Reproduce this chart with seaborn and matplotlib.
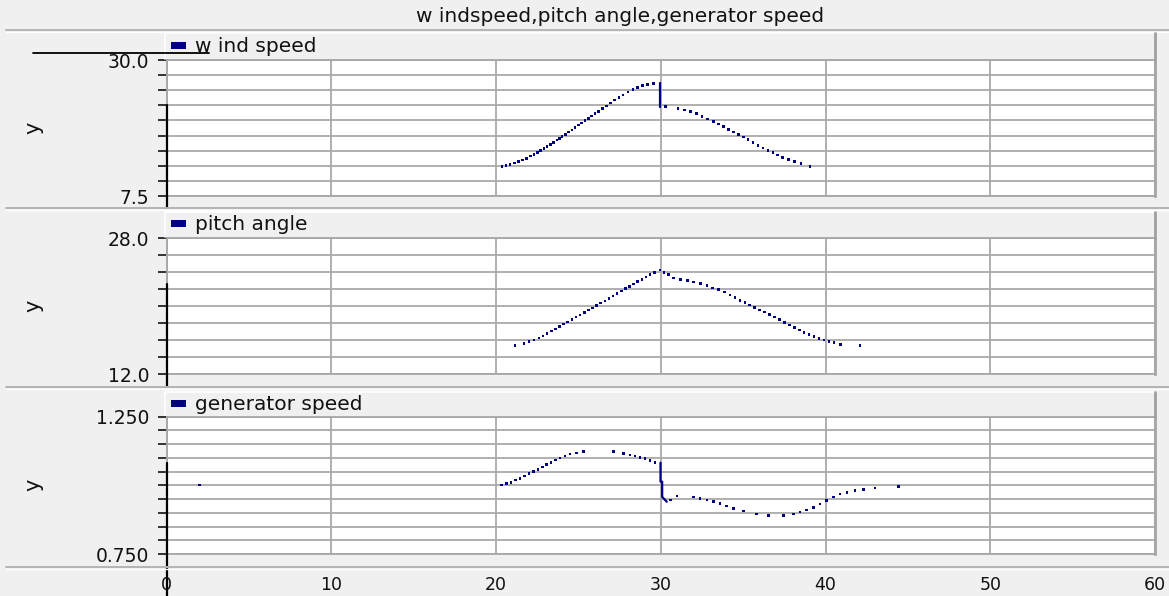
import matplotlib
matplotlib.use("Agg")
import matplotlib.pyplot as plt
import seaborn as sns
import pandas as pd
from matplotlib.patches import Rectangle
from matplotlib.lines import Line2D

# ---------------- data ----------------
title_text = "w indspeed,pitch angle,generator speed"
panel_names = ["w ind speed", "pitch angle", "generator speed"]
x_ticks = [0, 10, 20, 30, 40, 50, 60]

# wind speed
wind_rise_t = [20.35, 20.6, 20.85, 21.1, 21.35, 21.6, 21.85, 22.1, 22.3, 22.5, 22.7, 22.9,
               23.1, 23.3, 23.5, 23.7, 23.85, 24.0, 24.2, 24.4, 24.6, 24.8, 25.0, 25.2,
               25.4, 25.6, 25.8, 26.0, 26.2, 26.45, 26.7, 26.95, 27.2, 27.45, 27.7, 28.0,
               28.3, 28.6, 28.9, 29.2, 29.55]
wind_rise_v = [12.4, 12.55, 12.75, 12.95, 13.2, 13.45, 13.75, 14.1, 14.4, 14.7, 15.05, 15.35,
               15.7, 16.05, 16.4, 16.75, 17.0, 17.3, 17.7, 18.1, 18.45, 18.85, 19.25, 19.6,
               20.0, 20.35, 20.75, 21.1, 21.5, 21.95, 22.4, 22.9, 23.35, 23.8, 24.2, 24.7,
               25.1, 25.45, 25.75, 25.95, 26.15]
wind_step_t = [29.97, 29.97]
wind_step_v = [26.2, 22.3]
wind_fall_t = [30.3, 31.05, 31.45, 31.8, 32.15, 32.5, 32.85, 33.2, 33.5, 33.8, 34.1, 34.4,
               34.7, 35.0, 35.3, 35.6, 35.9, 36.2, 36.5, 36.8, 37.1, 37.4, 37.75, 38.1,
               38.5, 39.05]
wind_fall_v = [22.35, 22.0, 21.75, 21.45, 21.1, 20.7, 20.25, 19.8, 19.4, 18.95, 18.55, 18.1,
               17.7, 17.25, 16.8, 16.35, 15.9, 15.45, 15.05, 14.65, 14.25, 13.9, 13.55, 13.2,
               12.85, 12.4]
wind_t0_t = [0, 0]
wind_t0_v = [22.5, 5.5]

# pitch angle
pitch_rise_t = [21.15, 21.7, 22.0, 22.3, 22.6, 22.85, 23.1, 23.35, 23.6, 23.85, 24.1, 24.35,
                24.6, 24.85, 25.1, 25.35, 25.6, 25.85, 26.1, 26.35, 26.6, 26.85, 27.1, 27.35,
                27.6, 27.85, 28.1, 28.35, 28.6, 28.85, 29.1, 29.35, 29.6, 29.95]
pitch_rise_v = [15.34, 15.6, 15.8, 16.0, 16.25, 16.5, 16.78, 17.05, 17.32, 17.6, 17.88, 18.15,
                18.43, 18.7, 18.98, 19.25, 19.53, 19.8, 20.08, 20.36, 20.63, 20.91, 21.2, 21.48,
                21.77, 22.05, 22.33, 22.6, 22.88, 23.15, 23.42, 23.7, 23.95, 24.26]
pitch_fall_t = [30.2, 30.45, 30.75, 31.2, 31.6, 32.0, 32.4, 32.8, 33.15, 33.5, 33.85, 34.2,
                34.5, 34.8, 35.1, 35.4, 35.7, 36.0, 36.3, 36.6, 36.9, 37.2, 37.5, 37.8,
                38.1, 38.4, 38.7, 39.0, 39.3, 39.6, 39.9, 40.2, 40.5, 40.9, 42.1]
pitch_fall_v = [24.0, 23.7, 23.3, 23.15, 23.0, 22.85, 22.65, 22.4, 22.15, 21.95, 21.65, 21.3,
                21.0, 20.7, 20.45, 20.15, 19.85, 19.55, 19.3, 19.0, 18.7, 18.4, 18.1, 17.8,
                17.5, 17.2, 16.9, 16.65, 16.4, 16.2, 16.0, 15.85, 15.7, 15.5, 15.33]
pitch_t0_t = [0, 0]
pitch_t0_v = [22.6, 10.6]

# generator speed
gen_rise_t = [1.99, 20.34, 20.64, 20.9, 21.19, 21.45, 21.71, 22.0, 22.26, 22.53, 22.8, 23.07,
              23.33, 23.62, 23.88, 24.18, 24.49, 24.89, 25.29, 27.12, 27.72, 28.13, 28.43,
              28.74, 29.04, 29.34, 29.65]
gen_rise_v = [1.001, 1.001, 1.007, 1.011, 1.019, 1.025, 1.034, 1.043, 1.049, 1.058, 1.067, 1.076,
              1.083, 1.092, 1.099, 1.106, 1.114, 1.118, 1.122, 1.122, 1.116, 1.110, 1.106,
              1.101, 1.098, 1.089, 1.083]
gen_step_t = [29.98, 29.98, 30.08, 30.08, 30.2, 30.36]
gen_step_v = [1.082, 1.013, 1.013, 0.958, 0.950, 0.940]
gen_fall_t = [30.6, 30.97, 31.97, 32.38, 32.79, 33.19, 33.59, 34.0, 34.4, 35.01, 35.82, 36.53,
              37.44, 38.05, 38.45, 38.86, 39.26, 39.67, 40.07, 40.47, 40.88, 41.29, 41.79,
              42.3, 43.0, 44.42]
gen_fall_v = [0.946, 0.961, 0.958, 0.952, 0.946, 0.940, 0.934, 0.925, 0.916, 0.906, 0.895, 0.891,
              0.889, 0.895, 0.903, 0.910, 0.920, 0.932, 0.944, 0.958, 0.968, 0.973, 0.980,
              0.985, 0.990, 0.995]
gen_t0_t = [0, 0]
gen_t0_v = [1.081, 0.597]

y_ticks_wind = [7.5, 10.0, 12.5, 15.0, 17.5, 20.0, 22.5, 25.0, 27.5, 30.0]
y_ticks_pitch = [12.0, 14.0, 16.0, 18.0, 20.0, 22.0, 24.0, 26.0, 28.0]
y_ticks_gen = [0.75, 0.80, 0.85, 0.90, 0.95, 1.00, 1.05, 1.10, 1.15, 1.20, 1.25]
y_end_labels = [("7.5", "30.0"), ("12.0", "28.0"), ("0.750", "1.250")]

# ---------------- style ----------------
sns.set_style("white")
plt.rcParams["font.family"] = ["DejaVu Sans"]

BG = "#f0f0f0"
GRID = "#a9a9a9"
NAVY = "#000080"
TXT = "#111111"

W, H = 1169, 596
fig = plt.figure(figsize=(W / 100, H / 100), dpi=100, facecolor=BG)


def fx(px):
    return px / W


def fy(py):
    return 1 - py / H


def hline(y, x0, x1, color, lw):
    fig.add_artist(Line2D([fx(x0), fx(x1)], [fy(y), fy(y)], transform=fig.transFigure,
                          color=color, lw=lw))


def vline(x, y0, y1, color, lw):
    fig.add_artist(Line2D([fx(x), fx(x)], [fy(y0), fy(y1)], transform=fig.transFigure,
                          color=color, lw=lw))


# title & separators
fig.text(fx(620), fy(17), title_text, ha="center", va="center", fontsize=14.5, color=TXT)
for sy in [30, 208, 387, 567]:
    hline(sy, 6, W, "#b4b4b4", 1.4)
    hline(sy + 2, 6, W, "#ffffff", 1.0)

X0, X1 = 166.7, 1155
panels = [
    dict(top=60, bottom=196, ylim=(7.5, 30.0), ticks=y_ticks_wind, htop=33),
    dict(top=238.3, bottom=374, ylim=(12.0, 28.0), ticks=y_ticks_pitch, htop=212),
    dict(top=416.5, bottom=554, ylim=(0.75, 1.25), ticks=y_ticks_gen, htop=392),
]

series = [
    dict(dots=[(wind_rise_t, wind_rise_v), (wind_fall_t, wind_fall_v)],
         lines=[(wind_step_t, wind_step_v)], t0=(wind_t0_t, wind_t0_v)),
    dict(dots=[(pitch_rise_t, pitch_rise_v), (pitch_fall_t, pitch_fall_v)],
         lines=[], t0=(pitch_t0_t, pitch_t0_v)),
    dict(dots=[(gen_rise_t, gen_rise_v), (gen_fall_t, gen_fall_v)],
         lines=[(gen_step_t, gen_step_v)], t0=(gen_t0_t, gen_t0_v)),
]

for i, (p, s) in enumerate(zip(panels, series)):
    # header strip
    htop, hbot = p["htop"], p["top"] - 1.5
    fig.add_artist(Rectangle((fx(165), fy(hbot)), fx(1155) - fx(165), (hbot - htop) / H,
                             transform=fig.transFigure, facecolor=BG, edgecolor="none"))
    hline(htop, 165, 1155, "#ffffff", 1.2)
    vline(165, htop, hbot, "#ffffff", 1.2)
    vline(1154.5, htop, hbot + 2, "#a0a0a0", 2.0)
    ymid = (htop + hbot) / 2
    fig.add_artist(Rectangle((fx(171), fy(ymid + 3)), fx(186) - fx(171), 7 / H,
                             transform=fig.transFigure, facecolor=NAVY, edgecolor="none"))
    fig.text(fx(195), fy(ymid + 0.5), panel_names[i], ha="left", va="center",
             fontsize=14.5, color=TXT)

    ax = fig.add_axes([fx(X0), fy(p["bottom"]), fx(X1) - fx(X0), (p["bottom"] - p["top"]) / H])
    ax.set_facecolor("white")
    ax.set_xlim(0, 60)
    ax.set_ylim(*p["ylim"])
    ax.set_xticks(x_ticks)
    ax.set_yticks(p["ticks"])
    labels = [""] * len(p["ticks"])
    labels[0], labels[-1] = y_end_labels[i]
    ax.set_yticklabels(labels)
    ax.tick_params(axis="x", bottom=False, labelbottom=False)
    ax.tick_params(axis="y", left=True, direction="out", length=6.5, width=1.3,
                   color="#222222", pad=6, labelsize=13.5, labelcolor=TXT)
    ax.grid(True, color=GRID, lw=1.3)
    ax.set_axisbelow(True)
    for sp in ax.spines.values():
        sp.set_color("#a6a6a6")
        sp.set_linewidth(1.3)
    ax.spines["right"].set_linewidth(2.0)

    for (t, v) in s["dots"]:
        df = pd.DataFrame({"t": t, "v": v})
        sns.scatterplot(data=df, x="t", y="v", ax=ax, marker="s", s=3.5, color=NAVY,
                        linewidth=0, edgecolor="none", legend=False, zorder=3)
    for (t, v) in s["lines"]:
        df = pd.DataFrame({"t": t, "v": v})
        sns.lineplot(data=df, x="t", y="v", ax=ax, sort=False, estimator=None,
                     color=NAVY, lw=1.6, zorder=3)
    t0t, t0v = s["t0"]
    ax.plot(t0t, t0v, color="black", lw=1.6, clip_on=False, zorder=4)
    ax.set_xlabel("")
    ax.set_ylabel("")
    fig.text(fx(33), fy((p["top"] + p["bottom"]) / 2), "y", rotation=90, ha="center",
             va="center", fontsize=15, color=TXT)

# x-axis strip
axx = fig.add_axes([fx(X0), fy(569.5), fx(X1) - fx(X0), 0.5 / H])
axx.set_xlim(0, 60)
axx.set_xticks(x_ticks)
axx.set_xticklabels([str(v) for v in x_ticks])
axx.set_yticks([])
axx.set_facecolor("none")
for sp in axx.spines.values():
    sp.set_visible(False)
axx.tick_params(axis="x", direction="out", length=4, width=1.6, color="#222222",
                pad=0.5, labelsize=12.5, labelcolor=TXT)

# stray black line at top-left
hline(52.7, 33, 209, "black", 1.3)

fig.savefig("out.png", dpi=100, facecolor=BG)
